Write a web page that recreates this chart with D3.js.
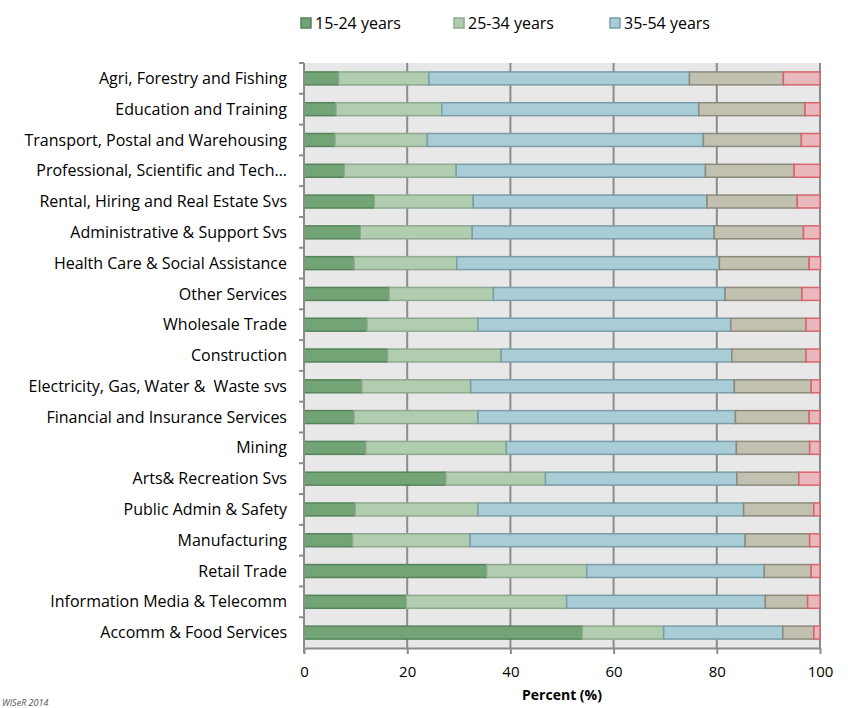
<!DOCTYPE html>
<html>
  <head>
    <meta charset="utf-8" />
    <script src="https://d3js.org/d3.v7.min.js"></script>
    <style>
      body { margin: 0; background: #ffffff; }
      text { font-family: "Open Sans", sans-serif; fill: #000; }
      .plotbg { fill: #e8e8e8; }
      .grid line { stroke: #8c8c8c; stroke-width: 2; }
      .axis path, .axis line { stroke: #8c8c8c; stroke-width: 2; }
    </style>
  </head>
  <body>
    <div id="chart"></div>
    <script type="text/javascript">

      var w = 848, h = 708;

      var industries = [
        "Agri, Forestry and Fishing", "Education and Training",
        "Transport, Postal and Warehousing", "Professional, Scientific and Tech\u2026",
        "Rental, Hiring and Real Estate Svs", "Administrative & Support Svs",
        "Health Care & Social Assistance", "Other Services", "Wholesale Trade",
        "Construction", "Electricity, Gas, Water &  Waste svs",
        "Financial and Insurance Services", "Mining", "Arts& Recreation Svs",
        "Public Admin & Safety", "Manufacturing", "Retail Trade",
        "Information Media & Telecomm", "Accomm & Food Services"
      ];

      var ageGroups = ["15-24 years", "25-34 years", "35-54 years", "55-64 years", "65+ years"];

      // share of workers by age group (%)
      var age15to24 = [6.7, 6.2, 6.0, 7.8, 13.6, 10.9, 9.7, 16.5, 12.2, 16.2, 11.2, 9.7, 12.0, 27.5, 9.9, 9.4, 35.4, 19.8, 53.9];
      var age25to34 = [17.5, 20.5, 17.9, 21.7, 19.2, 21.7, 19.9, 20.2, 21.5, 22.0, 21.1, 24.0, 27.2, 19.3, 23.8, 22.8, 19.4, 31.1, 15.8];
      var age35to54 = [50.5, 49.8, 53.5, 48.3, 45.3, 46.9, 50.9, 44.9, 49.0, 44.7, 51.1, 49.9, 44.6, 37.1, 51.5, 53.3, 34.4, 38.5, 23.1];
      var age55to64 = [18.2, 20.6, 19.0, 17.2, 17.5, 17.3, 17.4, 14.9, 14.6, 14.4, 14.9, 14.3, 14.2, 12.0, 13.6, 12.5, 9.1, 8.2, 6.0];
      var age65plus = [7.1, 2.9, 3.6, 5.0, 4.4, 3.2, 2.2, 3.5, 2.7, 2.7, 1.7, 2.1, 2.0, 4.1, 1.2, 2.0, 1.7, 2.4, 1.2];

      var xTicks = [0, 20, 40, 60, 80, 100];

      var fills = ["#72a476", "#b0cdb0", "#a8cdd7", "#c2c0b0", "#e8b8bc"];
      var strokes = ["#55845a", "#8fa88f", "#7a9da8", "#8b8a7c", "#d9646c"];

      var rows = industries.map(function(name, i) {
        return {
          name: name,
          "15-24 years": age15to24[i], "25-34 years": age25to34[i],
          "35-54 years": age35to54[i], "55-64 years": age55to64[i],
          "65+ years": age65plus[i]
        };
      });

      var stacked = d3.stack().keys(ageGroups)(rows);

      var margin = { top: 63, right: 28, bottom: 60, left: 304 };
      var iw = w - margin.left - margin.right, ih = h - margin.top - margin.bottom;

      var svg = d3.select("#chart").append("svg").attr("width", w).attr("height", h);
      var g = svg.append("g").attr("transform", "translate(" + margin.left + "," + margin.top + ")");

      var x = d3.scaleLinear().domain([0, 100]).range([0, iw]);
      var y = d3.scaleBand().domain(industries).range([0, ih]).paddingInner(0.58).paddingOuter(0.29);
      var yb = d3.scaleBand().domain(industries).range([0, ih]);

      g.append("rect").attr("class", "plotbg").attr("width", iw).attr("height", ih);

      //vertical gridlines
      g.append("g").attr("class", "grid").selectAll("line").data(xTicks.slice(1)).enter().append("line")
        .attr("x1", function(d) { return x(d); }).attr("x2", function(d) { return x(d); })
        .attr("y1", 0).attr("y2", ih);

      //stacked bars
      g.selectAll("g.series").data(stacked).enter().append("g")
        .attr("class", "series")
        .attr("fill", function(d, i) { return fills[i]; })
        .attr("stroke", function(d, i) { return strokes[i]; })
        .attr("stroke-width", 1.5)
        .selectAll("rect").data(function(d) { return d; }).enter().append("rect")
        .attr("x", function(d) { return x(d[0]); })
        .attr("width", function(d) { return x(d[1]) - x(d[0]); })
        .attr("y", function(d) { return y(d.data.name); })
        .attr("height", y.bandwidth());

      //y axis: ticks sit on the band boundaries
      var yAxis = g.append("g").attr("class", "axis");
      yAxis.append("line").attr("x1", 0).attr("x2", 0).attr("y1", 0).attr("y2", ih + 5);
      yAxis.selectAll("line.tick").data(industries).enter().append("line").attr("class", "tick")
        .attr("x1", -5).attr("x2", 0)
        .attr("y1", function(d) { return yb(d); }).attr("y2", function(d) { return yb(d); });
      yAxis.selectAll("text").data(industries).enter().append("text")
        .attr("x", -17).attr("y", function(d) { return yb(d) + yb.bandwidth() / 2; })
        .attr("dy", "0.35em").attr("text-anchor", "end")
        .style("font-size", "16px").style("white-space", "pre").text(function(d) { return d; });

      //x axis
      var xAxis = g.append("g").attr("class", "axis").attr("transform", "translate(0," + ih + ")")
        .call(d3.axisBottom(x).tickValues(xTicks).tickSize(6).tickSizeOuter(0).tickPadding(12));
      xAxis.selectAll("text").style("font-size", "15px").style("font-family", "\"Open Sans\", sans-serif");

      g.append("text").attr("x", x(50)).attr("y", ih + 52).attr("text-anchor", "middle")
        .style("font-size", "14px").style("font-weight", "bold").text("Percent (%)");

      //legend: only the first three groups are shown
      var legendX = [300, 453, 609];
      var legend = svg.selectAll("g.legend").data(ageGroups.slice(0, 3)).enter().append("g")
        .attr("class", "legend")
        .attr("transform", function(d, i) { return "translate(" + legendX[i] + ",17)"; });
      legend.append("rect").attr("x", 1).attr("y", 1).attr("width", 10).attr("height", 10)
        .attr("fill", function(d, i) { return fills[i]; })
        .attr("stroke", function(d, i) { return strokes[i]; }).attr("stroke-width", 1.5);
      legend.append("text").attr("x", 15).attr("y", 6).attr("dy", "0.35em")
        .style("font-size", "16px").text(function(d) { return d; });

      svg.append("text").attr("x", 2).attr("y", 706)
        .style("font-size", "9px").style("font-style", "italic").style("fill", "#555")
        .text("WISeR 2014");

    </script>
  </body>
</html>
